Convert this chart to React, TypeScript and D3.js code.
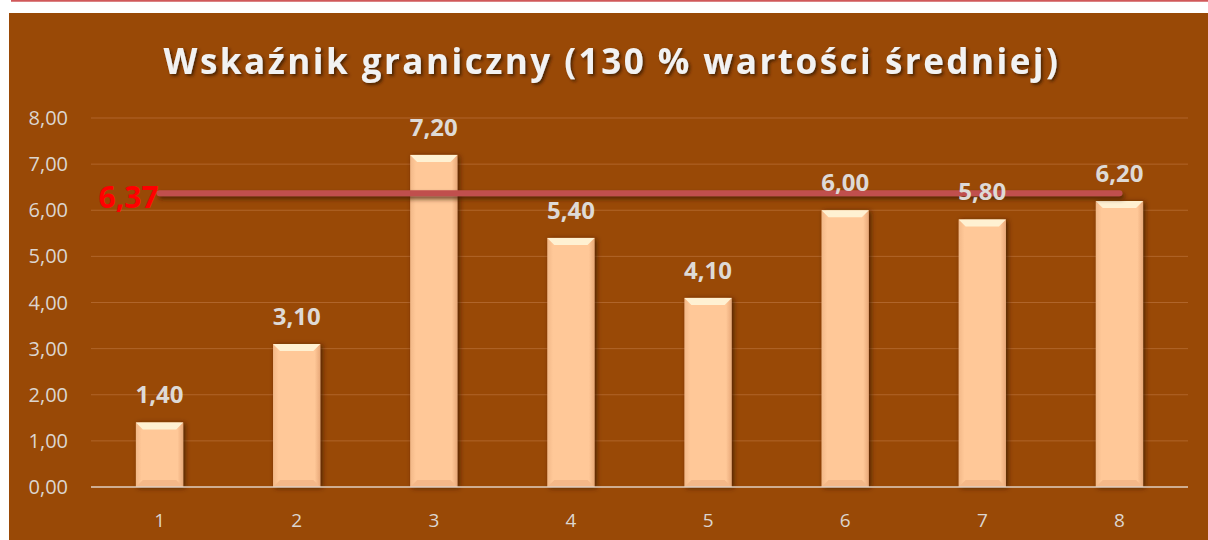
import React from "react";
import * as d3 from "d3";

const categories = ["1", "2", "3", "4", "5", "6", "7", "8"];
const values = [1.4, 3.1, 7.2, 5.4, 4.1, 6.0, 5.8, 6.2];
const threshold = 6.37;
const yTicks = [0, 1, 2, 3, 4, 5, 6, 7, 8];
const title = "Wskaźnik graniczny (130 % wartości średniej)";

const fmt = (v: number) => v.toFixed(2).replace(".", ",");

export default function App() {
  const width = 1208;
  const height = 540;
  const plotLeft = 91;
  const plotRight = 1188;
  const plotTop = 118;
  const plotBottom = 487;

  const x = d3
    .scaleBand()
    .domain(categories)
    .range([plotLeft, plotRight])
    .paddingInner(0.655)
    .paddingOuter(0.3275);

  const y = d3.scaleLinear().domain([0, 8]).range([plotBottom, plotTop]);

  const font = "Open Sans, sans-serif";
  const bev = 7;

  const lineY = y(threshold);
  const lx1 = (x(categories[0]) as number) + x.bandwidth() / 2;
  const lx2 = (x(categories[categories.length - 1]) as number) + x.bandwidth() / 2;

  return (
    <div style={{ position: "absolute", left: 0, top: 0 }}>
      <svg width={width} height={height} style={{ display: "block" }}>
        <defs>
          <filter id="barShadow" x="-30%" y="-10%" width="160%" height="120%">
            <feGaussianBlur in="SourceAlpha" stdDeviation="2.5" />
            <feOffset dx="2" dy="1" result="b" />
            <feFlood floodColor="#3a1a00" floodOpacity="0.8" />
            <feComposite in2="b" operator="in" />
            <feMerge>
              <feMergeNode />
              <feMergeNode in="SourceGraphic" />
            </feMerge>
          </filter>
          <filter id="lineShadow" filterUnits="userSpaceOnUse" x="0" y="0" width={width} height={height}>
            <feGaussianBlur in="SourceAlpha" stdDeviation="2" />
            <feOffset dx="2" dy="3" result="b" />
            <feFlood floodColor="#3a1a00" floodOpacity="0.7" />
            <feComposite in2="b" operator="in" />
            <feMerge>
              <feMergeNode />
              <feMergeNode in="SourceGraphic" />
            </feMerge>
          </filter>
          <filter id="textShadow" x="-5%" y="-30%" width="110%" height="160%">
            <feGaussianBlur in="SourceAlpha" stdDeviation="1.5" />
            <feOffset dx="2" dy="2" result="b" />
            <feFlood floodColor="#3a1a00" floodOpacity="0.8" />
            <feComposite in2="b" operator="in" />
            <feMerge>
              <feMergeNode />
              <feMergeNode in="SourceGraphic" />
            </feMerge>
          </filter>
          <linearGradient id="barGrad" x1="0" x2="1" y1="0" y2="0">
            <stop offset="0" stopColor="#f2b888" />
            <stop offset="0.12" stopColor="#ffc898" />
            <stop offset="0.88" stopColor="#ffc898" />
            <stop offset="1" stopColor="#e8a878" />
          </linearGradient>
        </defs>

        <rect x={0} y={0} width={width} height={height} fill="#ffffff" />
        <line x1={11} x2={width} y1={0.8} y2={0.8} stroke="#d0585a" strokeWidth={2} />
        <rect x={9} y={13} width={width - 9} height={height - 13} fill="#994906" />

        <text
          x={612}
          y={74}
          textAnchor="middle"
          fontFamily={font}
          fontWeight="bold"
          fontSize={35}
          letterSpacing={2.5}
          fill="#f2f2f2"
          filter="url(#textShadow)"
        >
          {title}
        </text>

        {yTicks.map((t) => (
          <g key={t}>
            {t > 0 && (
              <line
                x1={plotLeft}
                x2={plotRight}
                y1={y(t)}
                y2={y(t)}
                stroke="#b0652a"
                strokeWidth={1}
              />
            )}
            <text
              x={68}
              y={y(t)}
              dy="0.35em"
              textAnchor="end"
              fontFamily={font}
              fontSize={20}
              fill="#dcd6d0"
            >
              {fmt(t)}
            </text>
          </g>
        ))}

        {categories.map((c, i) => {
          const bx = x(c) as number;
          const bw = x.bandwidth();
          const top = y(values[i]);
          return (
            <g key={c}>
              <g filter="url(#barShadow)">
                <rect x={bx} y={top} width={bw} height={plotBottom - top} fill="url(#barGrad)" />
                <polygon
                  points={`${bx},${top} ${bx + bw},${top} ${bx + bw - bev},${top + bev} ${bx + bev},${top + bev}`}
                  fill="#fff1d2"
                />
                <polygon
                  points={`${bx},${plotBottom} ${bx + bw},${plotBottom} ${bx + bw - bev},${plotBottom - bev} ${bx + bev},${plotBottom - bev}`}
                  fill="#f4b888"
                />
              </g>
              <text
                x={bx + bw / 2}
                y={527}
                textAnchor="middle"
                fontFamily={font}
                fontSize={19}
                fill="#dcd6d0"
              >
                {c}
              </text>
            </g>
          );
        })}

        <line
          x1={plotLeft}
          x2={plotRight}
          y1={plotBottom}
          y2={plotBottom}
          stroke="#e0cfc0"
          strokeWidth={1.5}
        />

        <line
          x1={lx1}
          x2={lx2}
          y1={lineY}
          y2={lineY}
          stroke="#c0504d"
          strokeWidth={6}
          strokeLinecap="round"
          filter="url(#lineShadow)"
        />

        {categories.map((c, i) => (
          <text
            key={c}
            x={(x(c) as number) + x.bandwidth() / 2}
            y={y(values[i]) - 19}
            textAnchor="middle"
            fontFamily={font}
            fontWeight="bold"
            fontSize={24}
            fill="#dedad6"
          >
            {fmt(values[i])}
          </text>
        ))}

        <text
          x={lx1 - 1}
          y={lineY + 4}
          dy="0.36em"
          textAnchor="end"
          fontFamily={font}
          fontWeight="bold"
          fontSize={30}
          fill="#ff0000"
        >
          {fmt(threshold)}
        </text>
      </svg>
    </div>
  );
}
